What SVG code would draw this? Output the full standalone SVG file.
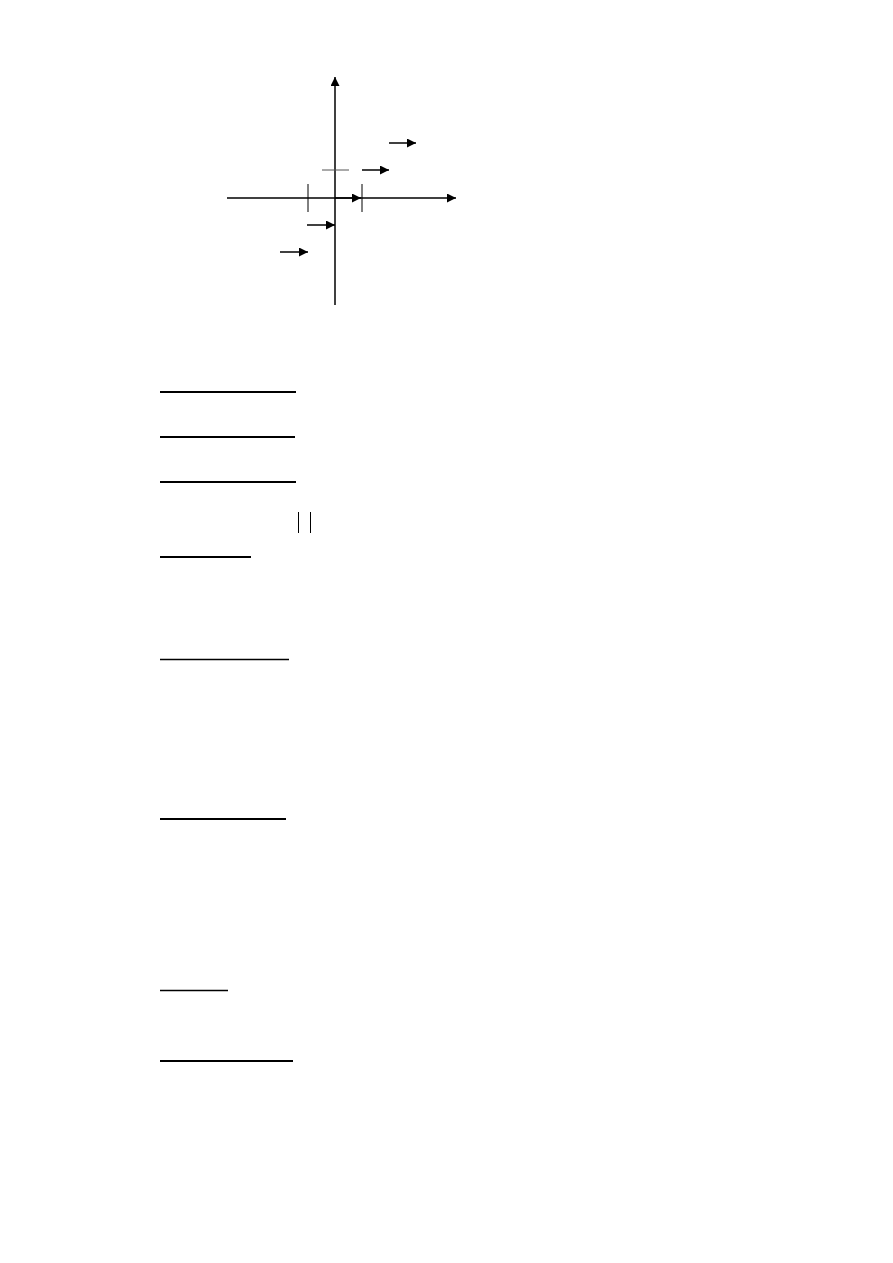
<svg xmlns="http://www.w3.org/2000/svg" width="893" height="1263" viewBox="0 0 893 1263">
<defs>
<style>
.ax{stroke:#000;stroke-width:1.5;fill:none}
.ar{stroke:#000;stroke-width:1.5;fill:none}
.tk{stroke:#000;stroke-width:1;fill:none}
.ul{stroke:#000;stroke-width:2;fill:none}
.ul1{stroke:#000;stroke-width:1.5;fill:none}
</style>
<marker id="ah" viewBox="0 0 10 10" refX="10" refY="5" markerWidth="10" markerHeight="9" markerUnits="userSpaceOnUse" orient="auto">
<path d="M0,0 L10,5 L0,10 z" fill="#000"/>
</marker>
</defs>
<rect width="893" height="1263" fill="#fff"/>
<g id="axes">
<line class="ax" x1="335" y1="305" x2="335" y2="77" marker-end="url(#ah)"/>
<line class="ax" x1="227" y1="198" x2="456" y2="198" marker-end="url(#ah)"/>
<line class="tk" x1="308" y1="184" x2="308" y2="212"/>
<line class="tk" x1="362" y1="184" x2="362" y2="212"/>
<line x1="322" y1="170" x2="349" y2="170" stroke="#555" stroke-width="1"/>
</g>
<g id="connectors">
<line class="ar" x1="335" y1="198" x2="361" y2="198" stroke-width="2.5" marker-end="url(#ah)"/>
<line class="ar" x1="389" y1="143" x2="416" y2="143" marker-end="url(#ah)"/>
<line class="ar" x1="362" y1="170" x2="389" y2="170" marker-end="url(#ah)"/>
<line class="ar" x1="307" y1="225" x2="335" y2="225" marker-end="url(#ah)"/>
<line class="ar" x1="280" y1="252" x2="308" y2="252" marker-end="url(#ah)"/>
</g>
<g id="underlines">
<line class="ul" x1="160" y1="392" x2="296" y2="392"/>
<line class="ul" x1="160" y1="437" x2="295" y2="437"/>
<line class="ul" x1="160" y1="482" x2="296" y2="482"/>
<line class="tk" x1="298.5" y1="512" x2="298.5" y2="533"/>
<line class="tk" x1="310.5" y1="512" x2="310.5" y2="533"/>
<line class="ul" x1="160" y1="557" x2="251" y2="557"/>
<line class="ul1" x1="160" y1="659.5" x2="289" y2="659.5"/>
<line class="ul" x1="160" y1="819" x2="286" y2="819"/>
<line class="ul1" x1="160" y1="990.5" x2="228" y2="990.5"/>
<line class="ul" x1="160" y1="1061" x2="293" y2="1061"/>
</g>
</svg>
